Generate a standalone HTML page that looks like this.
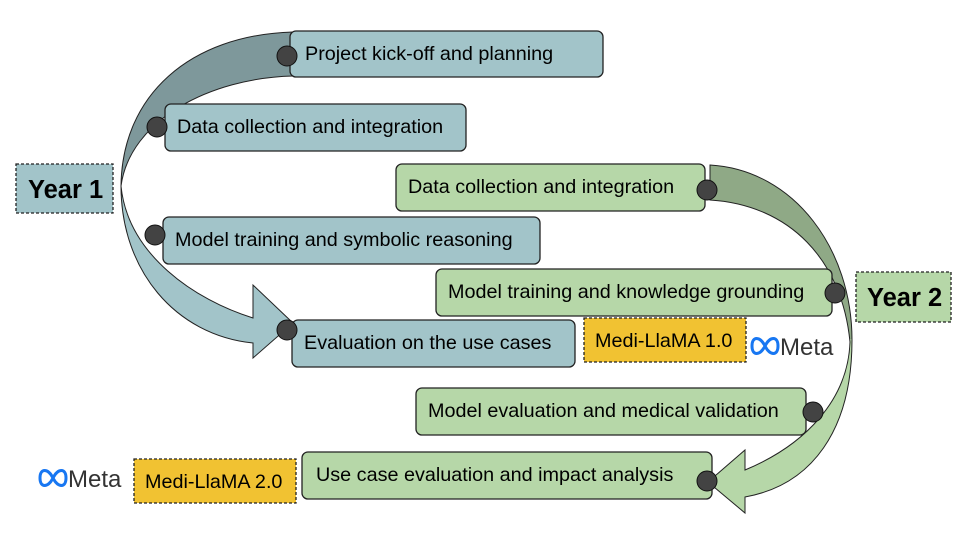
<!DOCTYPE html>
<html><head><style>
body{margin:0;width:960px;height:540px;background:#fff;overflow:hidden;font-family:"Liberation Sans",sans-serif}
svg{position:absolute;left:0;top:0}
</style></head><body>
<svg width="960" height="540" viewBox="0 0 960 540" font-family="Liberation Sans, sans-serif">
<defs>
<linearGradient id="g1" x1="0" y1="0" x2="0" y2="1" gradientUnits="objectBoundingBox">
<stop offset="0" stop-color="#7e989b"/><stop offset="0.47" stop-color="#7e989b"/><stop offset="0.47" stop-color="#a2c4c9"/><stop offset="1" stop-color="#a2c4c9"/></linearGradient>
<linearGradient id="g2" x1="0" y1="0" x2="0" y2="1">
<stop offset="0" stop-color="#8fa986"/><stop offset="0.5" stop-color="#8fa986"/><stop offset="0.5" stop-color="#b6d7a8"/><stop offset="1" stop-color="#b6d7a8"/></linearGradient>
</defs>
<path d="M293,32 C190,35 122,95 121,186 C121,270 175,335 253,343 L253,358 L293,323 L253,285 L253,318 C195,300 128,255 121,186 C130,120 210,78 293,76 Z" fill="url(#g1)" stroke="#222" stroke-width="1"/>
<path d="M710,165 C795,170 852,250 852,340 C852,430 812,485 745,497 L745,513 L708,482 L745,450 L745,470 C805,445 848,400 850,342 C842,260 790,205 710,200 Z" fill="url(#g2)" stroke="#222" stroke-width="1"/>
<g stroke="#222" stroke-width="1.3" fill="#000">
<rect x="290" y="31" width="313" height="46" rx="6" fill="#a2c4c9"/>
<rect x="165" y="104" width="301" height="47" rx="6" fill="#a2c4c9"/>
<rect x="163" y="217" width="377" height="47" rx="6" fill="#a2c4c9"/>
<rect x="292" y="320" width="283" height="47" rx="6" fill="#a2c4c9"/>
<rect x="396" y="164" width="309" height="47" rx="6" fill="#b6d7a8"/>
<rect x="436" y="269" width="396" height="47" rx="6" fill="#b6d7a8"/>
<rect x="416" y="388" width="390" height="47" rx="6" fill="#b6d7a8"/>
<rect x="302" y="452" width="410" height="47" rx="6" fill="#b6d7a8"/>
<rect x="16" y="164" width="97" height="49" fill="#a2c4c9" stroke-dasharray="3,2"/>
<rect x="856" y="272" width="95" height="50" fill="#b6d7a8" stroke-dasharray="3,2"/>
<rect x="584" y="318" width="162" height="44" fill="#f1c232" stroke-dasharray="3,2"/>
<rect x="134" y="459" width="162" height="44" fill="#f1c232" stroke-dasharray="3,2"/>
</g>
<g fill="#434343" stroke="#111" stroke-width="1">
<circle cx="287" cy="56" r="10"/><circle cx="157" cy="127" r="10"/><circle cx="155" cy="235" r="10"/><circle cx="287" cy="330" r="10"/>
<circle cx="707" cy="190" r="10"/><circle cx="835" cy="293" r="10"/><circle cx="813" cy="412" r="10"/><circle cx="707" cy="481" r="10"/>
</g>
<g font-size="19.8" fill="#000">
<text x="305" y="60">Project kick-off and planning</text>
<text x="177" y="133">Data collection and integration</text>
<text x="175" y="246">Model training and symbolic reasoning</text>
<text x="304" y="349">Evaluation on the use cases</text>
<text x="408" y="193">Data collection and integration</text>
<text x="448" y="298">Model training and knowledge grounding</text>
<text x="428" y="417">Model evaluation and medical validation</text>
<text x="316" y="481">Use case evaluation and impact analysis</text>
<text x="595" y="347">Medi-LlaMA 1.0</text>
<text x="145" y="488">Medi-LlaMA 2.0</text>
<text x="28" y="198" font-size="25.5" font-weight="bold">Year 1</text>
<text x="867" y="306" font-size="25.5" font-weight="bold">Year 2</text>
</g>
<g>
<path d="M752,346 C752,336 760,336 765,346 C770,356 778,356 778,346 C778,336 770,336 765,346 C760,356 752,356 752,346 Z" fill="none" stroke="#1877f2" stroke-width="3"/>
<text x="780" y="355" font-size="24" fill="#333">Meta</text>
<path d="M40,478 C40,468 48,468 53,478 C58,488 66,488 66,478 C66,468 58,468 53,478 C48,488 40,488 40,478 Z" fill="none" stroke="#1877f2" stroke-width="3"/>
<text x="68" y="487" font-size="24" fill="#333">Meta</text>
</g>
</svg>
</body></html>
